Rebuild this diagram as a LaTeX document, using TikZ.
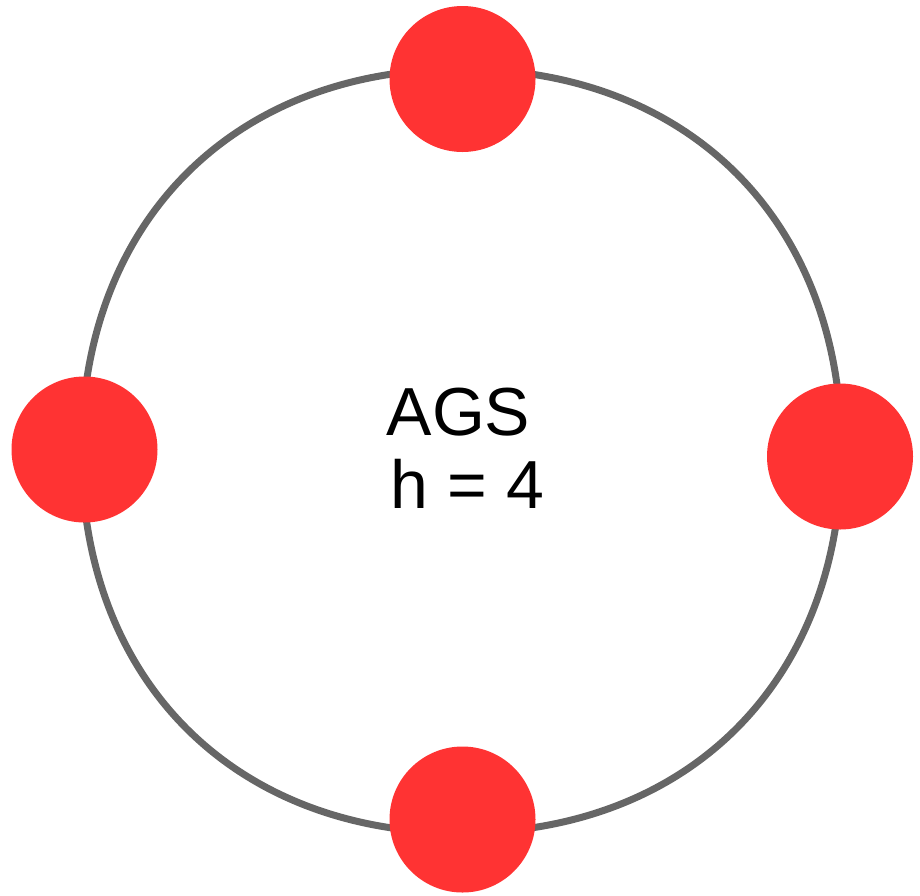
\documentclass[tikz,border=0pt]{standalone}
\usepackage{fontspec}
\setmainfont{Liberation Sans}
\usetikzlibrary{calc}
\definecolor{ringgray}{HTML}{666666}
\definecolor{dotred}{HTML}{FF3333}
\begin{document}
\begin{tikzpicture}[x=1pt,y=-1pt,
  ring/.style={draw=ringgray,line width=7pt},
  dot/.style={circle,fill=dotred,minimum size=146pt,inner sep=0pt},
  lbl/.style={font=\fontsize{68}{75}\selectfont,anchor=base,inner sep=0pt}]
\useasboundingbox (0,0) rectangle (920,895);
\def\rx{380}\def\ry{382}\def\kk{0.6}
\coordinate (c) at (461.5,451);
\coordinate (pe) at ($(c)+(\rx,0)$);
\coordinate (pn) at ($(c)+(0,-\ry)$);
\coordinate (pw) at ($(c)+(-\rx,0)$);
\coordinate (ps) at ($(c)+(0,\ry)$);
\draw[ring] (pe)
  .. controls ($(pe)+(0,-\kk*\ry)$) and ($(pn)+(\kk*\rx,0)$) .. (pn)
  .. controls ($(pn)+(-\kk*\rx,0)$) and ($(pw)+(0,-\kk*\ry)$) .. (pw)
  .. controls ($(pw)+(0,\kk*\ry)$) and ($(ps)+(-\kk*\rx,0)$) .. (ps)
  .. controls ($(ps)+(\kk*\rx,0)$) and ($(pe)+(0,\kk*\ry)$) .. (pe) -- cycle;
\node[dot] (top) at (462.5,79) {};
\node[dot] (left) at (84.5,449.5) {};
\node[dot] (right) at (840,456.5) {};
\node[dot] (bottom) at (462.5,819.5) {};
\node[lbl] (t1) at (458.5,435) {AGS};
\node[lbl] (t2) at (467.5,508) {h = 4};
\end{tikzpicture}
\end{document}
